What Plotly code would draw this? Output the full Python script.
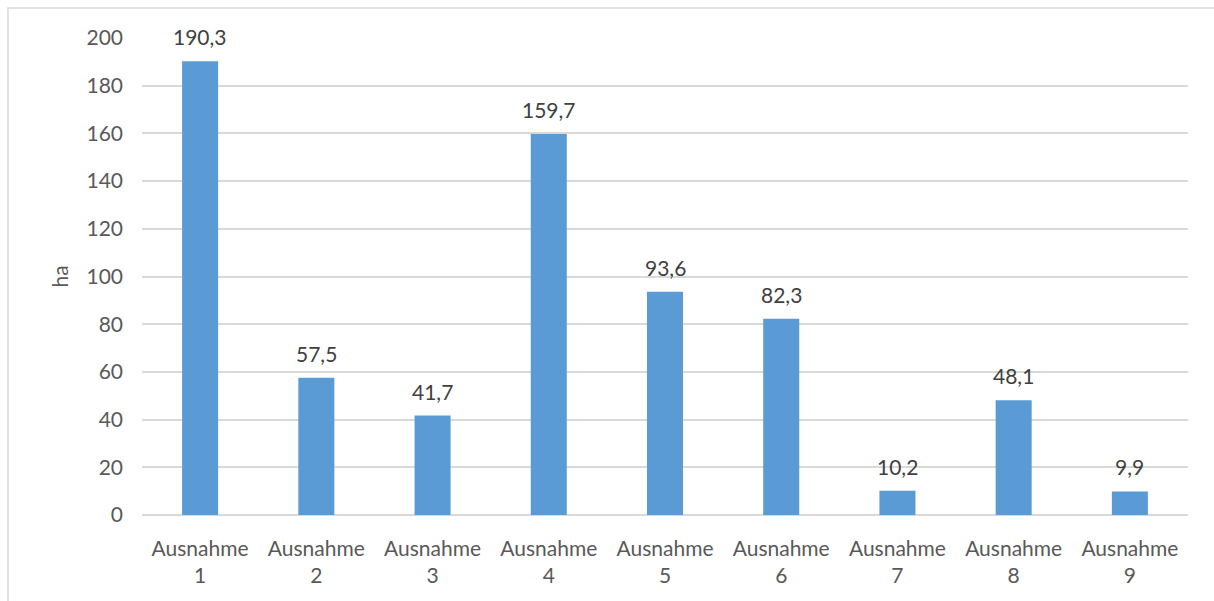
import plotly.graph_objects as go

categories = ["Ausnahme<br>1", "Ausnahme<br>2", "Ausnahme<br>3", "Ausnahme<br>4", "Ausnahme<br>5",
              "Ausnahme<br>6", "Ausnahme<br>7", "Ausnahme<br>8", "Ausnahme<br>9"]
values = [190.3, 57.5, 41.7, 159.7, 93.6, 82.3, 10.2, 48.1, 9.9]
y_ticks = [0, 20, 40, 60, 80, 100, 120, 140, 160, 180, 200]

FONT = "Lato"
TXT = "#595959"

fig = go.Figure(go.Bar(
    x=categories, y=values,
    marker=dict(color="#5B9BD5", line=dict(width=0)),
    hoverinfo="x+y",
))

for c, v in zip(categories, values):
    fig.add_annotation(x=c, y=v, text=f"{v:.1f}".replace(".", ","), showarrow=False,
                       yanchor="bottom", yshift=10,
                       font=dict(family=FONT, size=21, color="#404040"))

fig.update_layout(
    width=1214, height=601,
    margin=dict(l=142, r=26, t=38, b=86),
    paper_bgcolor="white", plot_bgcolor="white",
    separators=",.",
    bargap=0.69,
    showlegend=False,
    font=dict(family=FONT, size=21, color=TXT),
    xaxis=dict(showgrid=False, showline=False, ticks="", ticklabelstandoff=19,
               tickfont=dict(family=FONT, size=21, color=TXT)),
    yaxis=dict(range=[0, 200], tickvals=y_ticks, showgrid=True, gridcolor="#D9D9D9", gridwidth=1.5,
               zeroline=True, zerolinecolor="#D9D9D9", zerolinewidth=1.5, showline=False,
               ticks="", ticklabelstandoff=18,
               tickfont=dict(family=FONT, size=21, color=TXT),
               title=dict(text="ha", standoff=12, font=dict(family=FONT, size=21, color=TXT))),
    shapes=[dict(type="rect", xref="paper", yref="paper", x0=-134/1046, x1=1.04, y0=-0.2, y1=1 + 30/477,
                 line=dict(color="#D9D9D9", width=1.5), fillcolor="rgba(0,0,0,0)", layer="below")],
)

fig.write_html("out.html")
